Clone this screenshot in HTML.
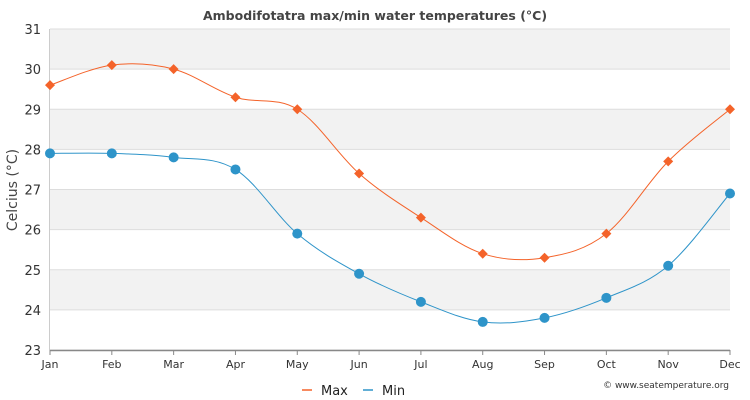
<!DOCTYPE html>
<html><head><meta charset="utf-8"><style>
body{margin:0;background:#fff;}
svg{display:block;font-family:"DejaVu Sans","Liberation Sans",sans-serif;}
</style></head><body>
<svg id="c" width="750" height="400" xmlns="http://www.w3.org/2000/svg">
<text x="375" y="20" text-anchor="middle" font-size="12.5" font-weight="bold" fill="#444">Ambodifotatra max/min water temperatures (°C)</text>
<g id="grid"></g>
<text x="17" y="190" transform="rotate(-90 17 190)" text-anchor="middle" font-size="14" fill="#444">Celcius (°C)</text>
<g id="series"></g>
<line x1="302" y1="390" x2="312" y2="390" stroke="#f4632a" stroke-width="1.5"/>
<text x="321" y="395" font-size="13" fill="#222">Max</text>
<line x1="363" y1="390" x2="373" y2="390" stroke="#2e94c9" stroke-width="1.5"/>
<text x="382" y="395" font-size="13" fill="#222">Min</text>
<text x="729" y="388" text-anchor="end" font-size="9" fill="#333">© www.seatemperature.org</text>
</svg>
<script>
var ns="http://www.w3.org/2000/svg";
function el(p,t,a,txt){var e=document.createElementNS(ns,t);for(var k in a)e.setAttribute(k,a[k]);if(txt!=null)e.textContent=txt;p.appendChild(e);return e;}
var g=document.getElementById('grid'),s=document.getElementById('series');
function Y(v){return 29+(31-v)*40.125;}
function X(i){return 50+i*680/11;}
for(var v=23;v<31;v++){ if((31-v)%2==1) el(g,'rect',{x:50,y:Y(v+1),width:680,height:40.125,fill:'#f2f2f2'});}
for(var v=23;v<=31;v++){el(g,'line',{x1:50,x2:730,y1:Y(v),y2:Y(v),stroke:'#ddd','stroke-width':1});
el(g,'text',{x:41,y:Y(v)+5,'text-anchor':'end','font-size':13,fill:'#333'},v);}
el(g,'line',{x1:50,x2:730,y1:350.5,y2:350.5,stroke:'#888','stroke-width':1.5});
el(g,'line',{x1:49.5,x2:49.5,y1:29,y2:350,stroke:'#ccc'});
var m=['Jan','Feb','Mar','Apr','May','Jun','Jul','Aug','Sep','Oct','Nov','Dec'];
for(var i=0;i<12;i++){el(g,'line',{x1:X(i),x2:X(i),y1:350,y2:355,stroke:'#888'});
el(g,'text',{x:X(i),y:368,'text-anchor':'middle','font-size':11,fill:'#333'},m[i]);}
var mx=[29.6,30.1,30.0,29.3,29.0,27.4,26.3,25.4,25.3,25.9,27.7,29.0];
var mn=[27.9,27.9,27.8,27.5,25.9,24.9,24.2,23.7,23.8,24.3,25.1,26.9];
function path(d){var p=d.map(function(v,i){return [X(i),Y(v)]});var s='M'+p[0][0]+','+p[0][1];
for(var i=0;i<p.length-1;i++){var p0=p[i-1]||p[i],p1=p[i],p2=p[i+1],p3=p[i+2]||p2;var t=0.17;
s+=' C'+(p1[0]+(p2[0]-p0[0])*t)+','+(p1[1]+(p2[1]-p0[1])*t)+' '+(p2[0]-(p3[0]-p1[0])*t)+','+(p2[1]-(p3[1]-p1[1])*t)+' '+p2[0]+','+p2[1];}return s;}
el(s,'path',{d:path(mx),fill:'none',stroke:'#f4632a','stroke-width':1});
el(s,'path',{d:path(mn),fill:'none',stroke:'#2e94c9','stroke-width':1});
mx.forEach(function(v,i){var x=X(i),y=Y(v);el(s,'polygon',{points:(x)+','+(y-5)+' '+(x+5)+','+y+' '+x+','+(y+5)+' '+(x-5)+','+y,fill:'#f4632a'});});
mn.forEach(function(v,i){el(s,'circle',{cx:X(i),cy:Y(v),r:5,fill:'#2e94c9'});});
</script>
</body></html>
